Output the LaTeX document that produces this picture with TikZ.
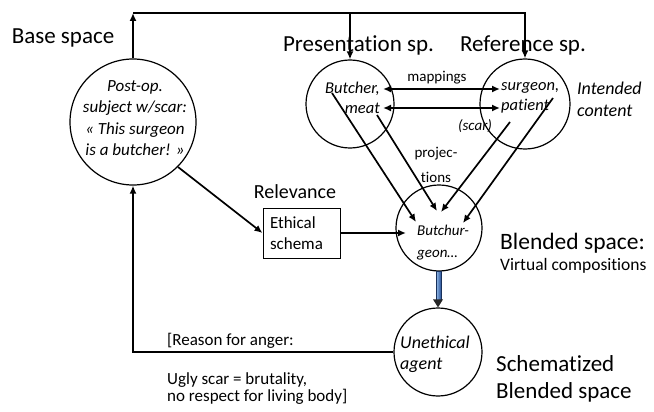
\documentclass[tikz,border=0pt]{standalone}
\usepackage{fontspec}
\setmainfont[Ligatures={NoCommon,NoContextual},Contextuals=NoAlternate]{Carlito}
\usetikzlibrary{arrows.meta}
\definecolor{barlight}{RGB}{150,190,235}
\definecolor{bardark}{RGB}{40,80,150}
\begin{document}
\begin{tikzpicture}[x=1pt,y=-1pt,
  spacecirc/.style={circle,draw,line width=1.2pt,inner sep=0pt},
  conn/.style={line width=1.7pt,-{Latex[length=8pt,width=7pt]}},
  twoway/.style={line width=1.7pt,{Latex[length=8pt,width=7pt]}-{Latex[length=8pt,width=7pt]}},
  biglabel/.style={font=\fontsize{23}{27}\selectfont,inner sep=0pt},
  midlabel/.style={font=\fontsize{17}{20}\selectfont,inner sep=0pt},
  smalllabel/.style={font=\fontsize{15}{25}\selectfont,inner sep=0pt},
  intext/.style={font=\fontsize{16.5}{20}\selectfont\itshape,inner sep=0pt},
]
\useasboundingbox (0,0) rectangle (654,412);

% mental spaces
\node[spacecirc,minimum size=126pt] (base) at (133,122) {};
\node[spacecirc,minimum size=88pt]  (pres) at (350,104) {};
\node[spacecirc,minimum size=90pt]  (ref)  at (525,104) {};
\node[spacecirc,minimum size=86pt]  (blend) at (439,228) {};
\node[spacecirc,minimum size=88pt]  (uneth) at (438,352) {};
\node[draw,line width=1pt,minimum width=77pt,minimum height=50pt,
      text width=63pt,inner sep=7pt,align=left,
      font=\fontsize{17}{21}\selectfont] (ethic) at (301.5,233) {Ethical\\schema};

% contents of the spaces
\node[intext,font=\fontsize{17}{21.5}\selectfont\itshape,align=center] (basetxt) at (135,118)
  {Post-op.\\subject w/scar:\\« This surgeon\\is a butcher! »};
\node[intext,align=right,anchor=east] (prestxt) at (380,98) {Butcher,\\meat};
\node[intext,align=left,anchor=west] (reftxt) at (501,98) {surgeon,\\patient};
\node[intext,font=\fontsize{15}{22}\selectfont\itshape,align=left,anchor=west] (blendtxt) at (417,243) {Butchur-\\geon…};
\node[intext,font=\fontsize{18}{21}\selectfont\itshape,align=left,anchor=west] (unethtxt) at (400,354) {Unethical\\agent};
\node[intext,font=\fontsize{15}{18}\selectfont\itshape] (scar) at (475,126) {(scar)};

% labels
\node[biglabel] (lbase) at (63,38) {Base space};
\node[biglabel] (lpres) at (358.5,45) {Presentation sp.};
\node[biglabel] (lref) at (523,45) {Reference sp.};
\node[biglabel,font=\fontsize{20}{24}\selectfont] (lrel) at (295,192) {Relevance};
\node[biglabel,font=\fontsize{23.5}{27}\selectfont,anchor=west] (lblend) at (500,243) {Blended space:};
\node[midlabel,font=\fontsize{17.5}{20}\selectfont,anchor=west] (lvirt) at (500,266) {Virtual compositions};
\node[biglabel,align=left,anchor=west] (lschem) at (496,379) {Schematized\\Blended space};
\node[intext,font=\fontsize{18}{22}\selectfont\itshape,align=left,anchor=west] (lint) at (577,99) {Intended\\content};
\node[smalllabel] (lmap) at (437,78) {mappings};
\node[smalllabel,align=center] (lproj) at (436,165) {projec-\\tions};
\node[midlabel,anchor=west] (lreason) at (167,341) {[Reason for anger:};
\node[midlabel,font=\fontsize{17}{17}\selectfont,align=left,anchor=west] (lugly) at (167,389)
  {Ugly scar = brutality,\\no respect for living body]};

% feedback loop over the top
\coordinate (topleft) at (133,13);
\draw[conn] (base.north) -- (topleft);
\draw[conn] (topleft) -| (ref.north);
\draw[conn] (topleft -| pres.north) -- (pres.north);

% back from the schematized blend to the base space
\draw[conn] (uneth.west) -| (base.south);

% relevance of the ethical schema
\draw[conn] (base.-45) -- (ethic.west);
\coordinate (ethictip) at (406,233);
\draw[conn] (ethic.east) -- (ethictip);

% cross-space mappings
\coordinate (m1a) at (383,89);  \coordinate (m1b) at (500,89);
\coordinate (m2a) at (383,108); \coordinate (m2b) at (500,108);
\draw[twoway] (m1a) -- (m1b);
\draw[twoway] (m2a) -- (m2b);

% projections into the blend
\coordinate (p1s) at (332,93);  \coordinate (p1e) at (416,222);
\coordinate (p2s) at (377,115); \coordinate (p2e) at (437,211);
\coordinate (p3s) at (510,122); \coordinate (p3e) at (441,212);
\coordinate (p4s) at (553,98);  \coordinate (p4e) at (463,223);
\draw[conn] (p1s) -- (p1e);
\draw[conn] (p2s) -- (p2e);
\draw[conn] (p3s) -- (p3e);
\draw[conn] (p4s) -- (p4e);

% schematization: shaded bar with a dark head
\path[draw=bardark!60!black,line width=0.6pt,left color=barlight,right color=bardark]
  ([xshift=-3pt]blend.south) rectangle ([xshift=3pt,yshift=7pt]uneth.north);
\fill[black!85] (uneth.north) -- ++(-5,-8) -- ++(10,0) -- cycle;
\end{tikzpicture}
\end{document}
